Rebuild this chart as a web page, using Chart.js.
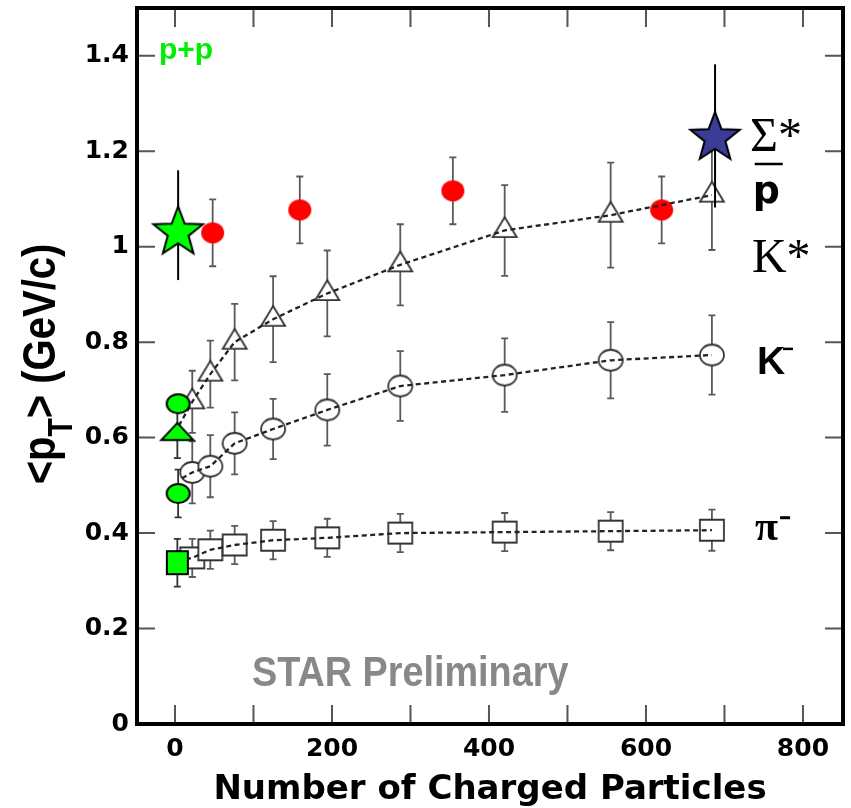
<!DOCTYPE html>
<html>
<head>
<meta charset="utf-8">
<title>&lt;pT&gt; vs number of charged particles</title>
<script src="https://cdn.jsdelivr.net/npm/chart.js"></script>
<style>
  html, body { margin: 0; padding: 0; background: #fff; }
  canvas { display: block; }
</style>
</head>
<body>
<canvas id="meanPt" width="851" height="808"></canvas>
<script>
// Au+Au multiplicity bins, shared by pi-, K- and K*
const nch = [22, 45, 76, 125, 194, 287, 420, 555, 684];
const pionMean = [0.348, 0.365, 0.375, 0.385, 0.39, 0.40, 0.402, 0.404, 0.406];
const pionErr = [0.04, 0.04, 0.04, 0.04, 0.04, 0.04, 0.04, 0.04, 0.043];
const kaonMean = [0.527, 0.54, 0.588, 0.618, 0.658, 0.708, 0.731, 0.762, 0.773];
const kaonErr = [0.065, 0.065, 0.065, 0.063, 0.075, 0.073, 0.077, 0.08, 0.083];
const kstarMean = [0.675, 0.733, 0.80, 0.848, 0.902, 0.962, 1.034, 1.066, 1.108];
const kstarErr = [0.065, 0.07, 0.08, 0.09, 0.09, 0.085, 0.095, 0.11, 0.115];

// anti-proton (red dots)
const protonNch = [48, 159, 354, 620];
const protonMean = [1.029, 1.077, 1.117, 1.077];
const protonErr = [0.07, 0.07, 0.07, 0.07];

// p+p reference points: pi-, K-, K*, pbar
const ppNch = [3, 4, 3, 4];
const ppMean = [0.338, 0.483, 0.607, 0.671];
const ppErr = [0.05, 0.05, 0.05, 0];

// Sigma* : p+p (green star) and Au+Au (blue star)
const sigmaNch = [4, 688];
const sigmaMean = [1.03, 1.228];
const sigmaErrLo = [0.10, 0.146];
const sigmaErrHi = [0.13, 0.154];

// where the dashed curves start, left of the first Au+Au bin
const pionCurveStart = [14, 0.345];
const kaonCurveStart = [9, 0.515];
const kstarCurveStart = [5, 0.625];

const xTickLabels = [0, 200, 400, 600, 800];
const xTickMarks = [0, 100, 200, 300, 400, 500, 600, 700, 800];
const yTicks = [0, 0.2, 0.4, 0.6, 0.8, 1.0, 1.2, 1.4];

const pts = (xs, ys) => xs.map((x, i) => ({ x, y: ys[i] }));
const curve = (start, xs, ys) => [{ x: start[0], y: start[1] }].concat(pts(xs, ys));

// marker images (the original is a bit wider than tall)
function marker(shape, w, h, fill, stroke, lw) {
  const pad = Math.ceil(lw || 0) + 1;
  const c = document.createElement("canvas");
  c.width = w + 2 * pad;
  c.height = shape === "triangle" ? Math.ceil(2 * (pad + (2 * h) / 3)) : h + 2 * pad;
  const g = c.getContext("2d");
  const cx = c.width / 2, cy = c.height / 2;
  g.beginPath();
  if (shape === "circle") {
    g.ellipse(cx, cy, w / 2, h / 2, 0, 0, Math.PI * 2);
  } else if (shape === "square") {
    g.rect(cx - w / 2, cy - h / 2, w, h);
  } else if (shape === "triangle") {
    g.moveTo(cx, cy - (2 * h) / 3);
    g.lineTo(cx + w / 2, cy + h / 3);
    g.lineTo(cx - w / 2, cy + h / 3);
    g.closePath();
  }
  g.fillStyle = fill;
  g.fill();
  if (stroke) {
    g.lineWidth = lw;
    g.strokeStyle = stroke;
    g.stroke();
  }
  return c;
}

function star(R, fill) {
  const pad = 3;
  const c = document.createElement("canvas");
  c.width = c.height = Math.ceil(2 * R + 2 * pad);
  const g = c.getContext("2d");
  const cx = c.width / 2, cy = c.height / 2;
  g.beginPath();
  for (let i = 0; i < 10; i++) {
    const a = -Math.PI / 2 + (i * Math.PI) / 5;
    const r = i % 2 ? R * 0.42 : R;
    g.lineTo(cx + r * Math.cos(a), cy + r * Math.sin(a));
  }
  g.closePath();
  g.fillStyle = fill;
  g.fill();
  g.lineWidth = 2;
  g.strokeStyle = "#000";
  g.stroke();
  return c;
}

const GREEN = "#00ff00";
const openSquare = marker("square", 24, 21, "#fff", "#333", 1.8);
const openCircle = marker("circle", 24, 21, "#fff", "#333", 1.8);
const openTriangle = marker("triangle", 24, 20, "#fff", "#333", 1.8);
const redDot = marker("circle", 23, 21, "#ff0000");
const ppStyles = [
  marker("square", 21, 23, GREEN, "#000", 2),
  marker("circle", 23, 19, GREEN, "#000", 2),
  marker("triangle", 32, 17, GREEN, "#000", 2),
  marker("circle", 23, 19, GREEN, "#000", 2),
];
const starStyles = [star(26, GREEN), star(26, "#3b3b98")];

function errorBars(chart, xs, ys, lo, hi, color, width, cap) {
  const { ctx, scales: { x, y } } = chart;
  ctx.save();
  ctx.strokeStyle = color;
  ctx.lineWidth = width;
  xs.forEach((xv, i) => {
    if (!lo[i] && !hi[i]) return;
    const px = x.getPixelForValue(xv);
    const top = y.getPixelForValue(ys[i] + hi[i]);
    const bot = y.getPixelForValue(ys[i] - lo[i]);
    ctx.beginPath();
    ctx.moveTo(px, top);
    ctx.lineTo(px, bot);
    if (cap) {
      ctx.moveTo(px - cap, top);
      ctx.lineTo(px + cap, top);
      ctx.moveTo(px - cap, bot);
      ctx.lineTo(px + cap, bot);
    }
    ctx.stroke();
  });
  ctx.restore();
}

const STAR_INDEX = 8;

const decorations = {
  id: "decorations",
  beforeDraw(chart) {
    const { ctx } = chart;
    ctx.save();
    ctx.fillStyle = "#fff";
    ctx.fillRect(0, 0, chart.width, chart.height);
    ctx.restore();
  },
  beforeDatasetsDraw(chart) {
    const bar = "#5a5a5a";
    errorBars(chart, nch, pionMean, pionErr, pionErr, bar, 1.8, 3.5);
    errorBars(chart, nch, kaonMean, kaonErr, kaonErr, bar, 1.8, 3.5);
    errorBars(chart, nch, kstarMean, kstarErr, kstarErr, bar, 1.8, 3.5);
    errorBars(chart, protonNch, protonMean, protonErr, protonErr, bar, 1.8, 3.5);
    errorBars(chart, ppNch, ppMean, ppErr, ppErr, "#333", 1.8, 3.5);
  },
  beforeDatasetDraw(chart, args) {
    if (args.index === STAR_INDEX) {
      errorBars(chart, sigmaNch, sigmaMean, sigmaErrLo, sigmaErrHi, "#000", 2, 0);
    }
  },
  afterDraw(chart) {
    const { ctx, chartArea: a, scales: { x, y } } = chart;
    const at = (xv, yv) => [x.getPixelForValue(xv), y.getPixelForValue(yv)];
    ctx.save();

    // inward tick marks on all four sides
    ctx.strokeStyle = "#555";
    ctx.lineWidth = 2;
    ctx.beginPath();
    xTickMarks.forEach((v) => {
      const px = x.getPixelForValue(v);
      ctx.moveTo(px, a.bottom);
      ctx.lineTo(px, a.bottom - 19);
      ctx.moveTo(px, a.top);
      ctx.lineTo(px, a.top + 19);
    });
    yTicks.forEach((v) => {
      const py = y.getPixelForValue(v);
      ctx.moveTo(a.left, py);
      ctx.lineTo(a.left + 18, py);
      ctx.moveTo(a.right, py);
      ctx.lineTo(a.right - 18, py);
    });
    ctx.stroke();

    ctx.strokeStyle = "#000";
    ctx.lineWidth = 4;
    ctx.strokeRect(a.left, a.top, a.right - a.left, a.bottom - a.top);

    // text inside the frame
    ctx.textAlign = "left";
    ctx.textBaseline = "alphabetic";
    ctx.fillStyle = "#000";
    let p;

    ctx.font = "48px 'Liberation Serif'";
    p = at(732.5, 1.201);
    ctx.fillText("Σ*", p[0], p[1]);
    p = at(735, 0.946);
    ctx.fillText("K*", p[0], p[1]);

    p = at(736, 1.092);
    ctx.font = "bold 38px 'DejaVu Sans'";
    ctx.fillText("p", p[0], p[1]);
    ctx.fillRect(p[0] + 2, p[1] - 40, 28, 2.5);

    p = at(741.4, 0.734);
    ctx.font = "bold 39px 'Liberation Sans'";
    ctx.fillText("K", p[0], p[1]);
    ctx.fillRect(p[0] + 26, p[1] - 26, 10, 2.5);

    p = at(739, 0.385);
    ctx.font = "bold 42px 'Liberation Serif'";
    ctx.fillText("π", p[0], p[1]);
    ctx.fillRect(p[0] + 25, p[1] - 24, 10, 3);

    p = at(-20.4, 1.393);
    ctx.fillStyle = "#00ee00";
    ctx.font = "bold 30px 'Liberation Sans'";
    ctx.fillText("p+p", p[0], p[1]);

    p = at(98, 0.0795);
    ctx.fillStyle = "#888";
    ctx.font = "bold 42px 'Liberation Sans'";
    ctx.translate(p[0], p[1]);
    ctx.scale(0.9, 1);
    ctx.fillText("STAR Preliminary", 0, 0);
    ctx.restore();

    // y title with the T subscript, rotated
    ctx.save();
    ctx.fillStyle = "#000";
    ctx.translate(55, (a.top + a.bottom) / 2 - 2);
    ctx.rotate(-Math.PI / 2);
    ctx.scale(1, 1.14);
    const big = "bold 40px 'Liberation Sans'";
    const small = "bold 30px 'Liberation Sans'";
    const parts = [["<p", big, 0], ["T", small, 15], ["> (GeV/c)", big, 0]];
    let total = 0;
    parts.forEach(([t, f]) => { ctx.font = f; total += ctx.measureText(t).width; });
    let cx = -total / 2;
    parts.forEach(([t, f, dy]) => {
      ctx.font = f;
      ctx.fillText(t, cx, dy);
      cx += ctx.measureText(t).width;
    });
    ctx.restore();
  },
};

const tickFont = { family: "DejaVu Sans", size: 25, weight: "bold" };

new Chart(document.getElementById("meanPt"), {
  type: "scatter",
  data: {
    datasets: [
      { label: "π-", data: pts(nch, pionMean), pointStyle: openSquare, pointRadius: 12, order: 3 },
      { label: "K-", data: pts(nch, kaonMean), pointStyle: openCircle, pointRadius: 12, order: 3 },
      { label: "K*", data: pts(nch, kstarMean), pointStyle: openTriangle, pointRadius: 12, order: 3 },
      { label: "pbar", data: pts(protonNch, protonMean), pointStyle: redDot, pointRadius: 12, order: 3 },
      { label: "π- curve", data: curve(pionCurveStart, nch, pionMean), showLine: true, pointRadius: 0,
        borderColor: "#222", borderWidth: 2.3, borderDash: [5, 3.5], order: 2 },
      { label: "K- curve", data: curve(kaonCurveStart, nch, kaonMean), showLine: true, pointRadius: 0,
        borderColor: "#222", borderWidth: 2.3, borderDash: [5, 3.5], order: 2 },
      { label: "K* curve", data: curve(kstarCurveStart, nch, kstarMean), showLine: true, pointRadius: 0,
        borderColor: "#222", borderWidth: 2.3, borderDash: [5, 3.5], order: 2 },
      { label: "p+p", data: pts(ppNch, ppMean), pointStyle: ppStyles, pointRadius: 12, order: 1 },
      { label: "Σ*", data: pts(sigmaNch, sigmaMean), pointStyle: starStyles, pointRadius: 20, order: 0 },
    ],
  },
  options: {
    responsive: false,
    animation: false,
    devicePixelRatio: 1,
    events: [],
    layout: { autoPadding: false, padding: { left: 0, right: 8, top: 8, bottom: 0 } },
    plugins: { legend: { display: false }, tooltip: { enabled: false } },
    scales: {
      x: {
        type: "linear",
        min: -48.4,
        max: 851,
        grid: { display: false, drawTicks: false },
        border: { display: false },
        afterBuildTicks: (s) => { s.ticks = xTickLabels.map((value) => ({ value })); },
        afterFit: (s) => { s.height = 84; s.paddingLeft = 0; s.paddingRight = 0; },
        ticks: { font: tickFont, color: "#000", padding: 10, maxRotation: 0 },
        title: {
          display: true,
          text: "Number of Charged Particles",
          color: "#000",
          font: { family: "DejaVu Sans", size: 34, weight: "bold", lineHeight: 1 },
          padding: { top: 0, bottom: 1 },
        },
      },
      y: {
        min: 0,
        max: 1.5,
        grid: { display: false, drawTicks: false },
        border: { display: false },
        afterBuildTicks: (s) => { s.ticks = yTicks.map((value) => ({ value })); },
        afterFit: (s) => { s.width = 137; s.paddingTop = 0; s.paddingBottom = 0; },
        ticks: {
          font: tickFont,
          color: "#000",
          padding: 8,
          callback: (v) => String(+Number(v).toFixed(1)),
        },
      },
    },
  },
  plugins: [decorations],
});
</script>
</body>
</html>
